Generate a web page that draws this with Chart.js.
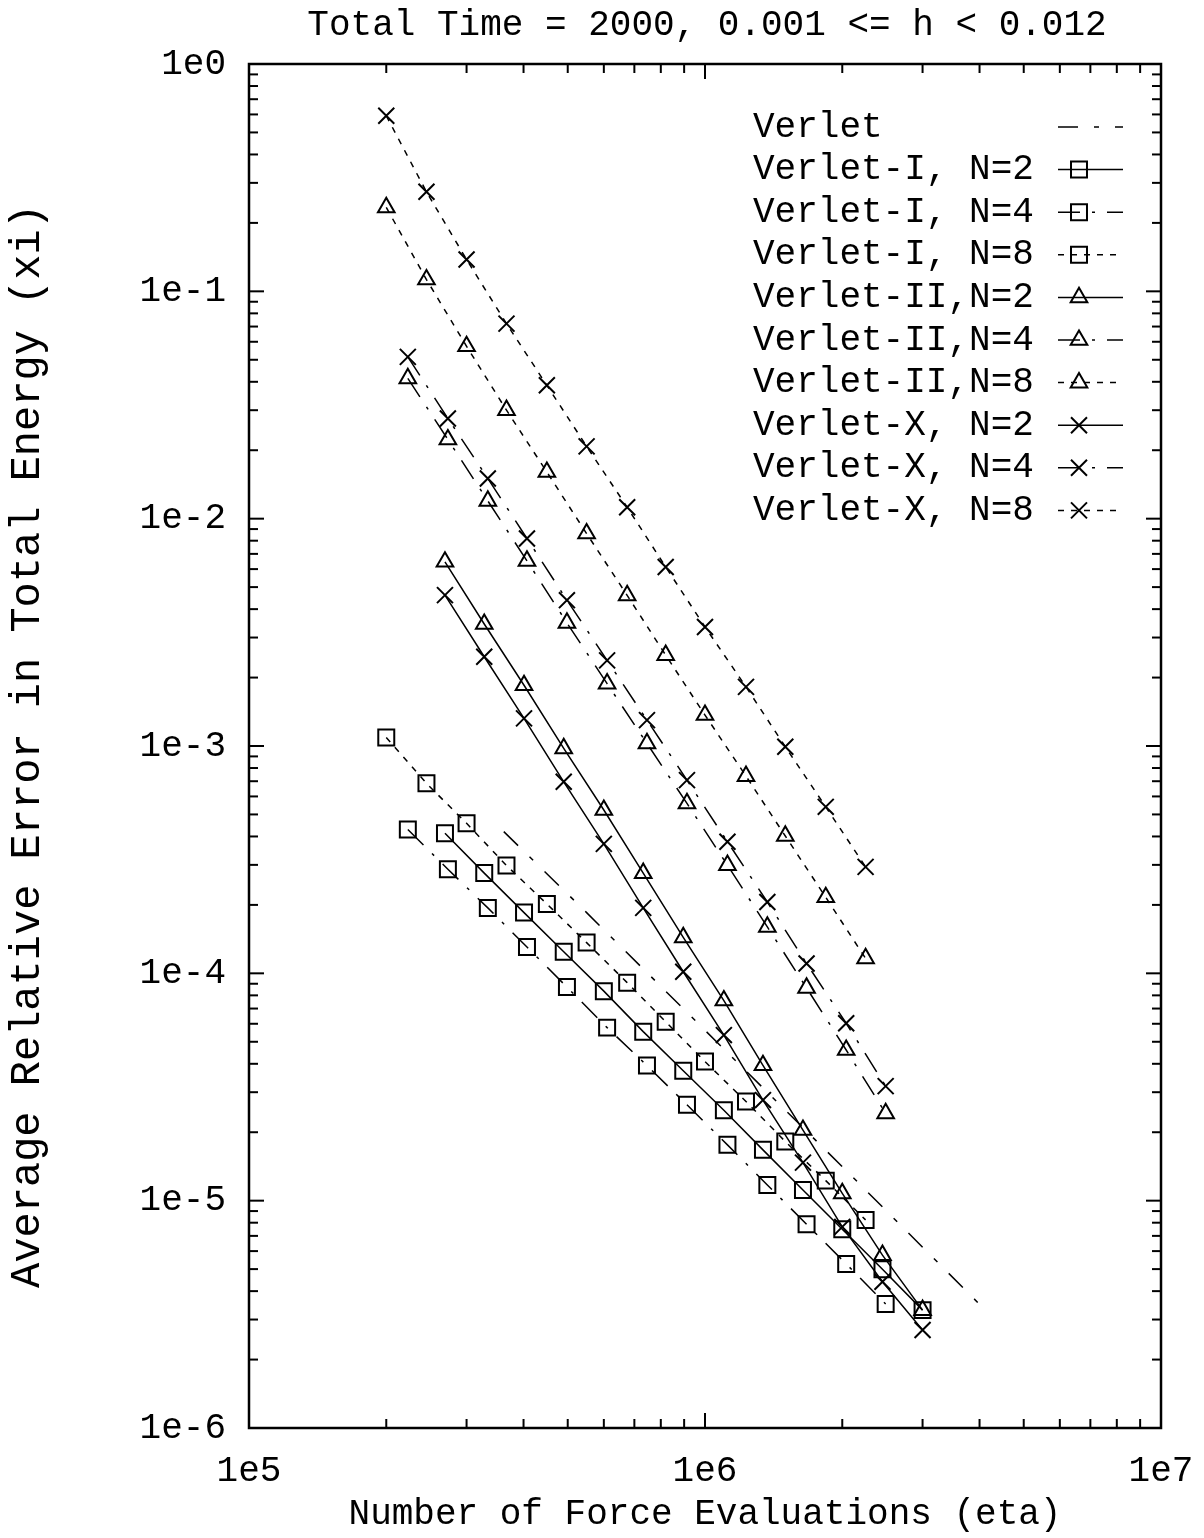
<!DOCTYPE html>
<html><head><meta charset="utf-8">
<script src="https://cdn.jsdelivr.net/npm/chart.js@4.4.1/dist/chart.umd.min.js"></script>
<style>html,body{margin:0;padding:0;background:#fff}canvas{display:block}</style>
</head><body>
<canvas id="c" width="1204" height="1538"></canvas>
<script>
// ---------- data ----------
const chartTitle = 'Total Time = 2000, 0.001 <= h < 0.012';
const xAxisTitle = 'Number of Force Evaluations (eta)';
const yAxisTitle = 'Average Relative Error in Total Energy (xi)';
const xTickValues = [1e5, 1e6, 1e7];
const xTickLabels = ['1e5', '1e6', '1e7'];
const yTickValues = [1, 1e-1, 1e-2, 1e-3, 1e-4, 1e-5, 1e-6];
const yTickLabels = ['1e0', '1e-1', '1e-2', '1e-3', '1e-4', '1e-5', '1e-6'];

const seriesNames = ['Verlet', 'Verlet-I, N=2', 'Verlet-I, N=4', 'Verlet-I, N=8',
  'Verlet-II,N=2', 'Verlet-II,N=4', 'Verlet-II,N=8',
  'Verlet-X, N=2', 'Verlet-X, N=4', 'Verlet-X, N=8'];

// force evaluations (x) for each N
const xN2 = [2.69e5, 3.28e5, 4.01e5, 4.9e5, 6.0e5, 7.32e5, 8.96e5, 1.1e6, 1.34e6, 1.64e6, 2.0e6, 2.45e6, 3.0e6];
const xN4 = [2.23e5, 2.73e5, 3.34e5, 4.07e5, 4.98e5, 6.1e5, 7.46e5, 9.13e5, 1.12e6, 1.37e6, 1.67e6, 2.04e6, 2.49e6];
const xN8 = [2.0e5, 2.45e5, 3.0e5, 3.67e5, 4.5e5, 5.5e5, 6.75e5, 8.2e5, 1.0e6, 1.23e6, 1.5e6, 1.84e6, 2.25e6];
const xVerlet = [3.62e5, 5.5e5, 2.06e6, 4.0e6];

// average relative error (y)
const yVerlet = [4.2e-4, 1.85e-4, 1.33e-5, 3.5e-6];
const yVerletI_N2 = [4.13e-4, 2.76e-4, 1.85e-4, 1.244e-4, 8.35e-5, 5.54e-5, 3.73e-5, 2.5e-5, 1.673e-5, 1.115e-5, 7.48e-6, 4.99e-6, 3.3e-6];
const yVerletI_N4 = [4.29e-4, 2.87e-4, 1.94e-4, 1.305e-4, 8.7e-5, 5.77e-5, 3.93e-5, 2.64e-5, 1.76e-5, 1.173e-5, 7.88e-6, 5.27e-6, 3.51e-6];
const yVerletI_N8 = [1.09e-3, 6.85e-4, 4.57e-4, 2.98e-4, 2.02e-4, 1.365e-4, 9.1e-5, 6.12e-5, 4.09e-5, 2.73e-5, 1.82e-5, 1.225e-5, 8.23e-6];
const yVerletII_N2 = [6.46e-3, 3.44e-3, 1.85e-3, 9.76e-4, 5.23e-4, 2.76e-4, 1.44e-4, 7.59e-5, 3.94e-5, 2.045e-5, 1.077e-5, 5.76e-6, 3.3e-6];
const yVerletII_N4 = [4.14e-2, 2.23e-2, 1.197e-2, 6.52e-3, 3.48e-3, 1.88e-3, 1.026e-3, 5.59e-4, 2.99e-4, 1.6e-4, 8.63e-5, 4.6e-5, 2.42e-5];
const yVerletII_N8 = [2.34e-1, 1.127e-1, 5.73e-2, 3.0e-2, 1.604e-2, 8.6e-3, 4.6e-3, 2.51e-3, 1.368e-3, 7.37e-4, 4.02e-4, 2.16e-4, 1.163e-4];
const yVerletX_N2 = [4.61e-3, 2.47e-3, 1.323e-3, 6.96e-4, 3.71e-4, 1.94e-4, 1.016e-4, 5.35e-5, 2.77e-5, 1.47e-5, 7.67e-6, 4.4e-6, 2.7e-6];
const yVerletX_N4 = [5.15e-2, 2.76e-2, 1.502e-2, 8.18e-3, 4.38e-3, 2.38e-3, 1.3e-3, 7.08e-4, 3.79e-4, 2.06e-4, 1.105e-4, 6.03e-5, 3.19e-5];
const yVerletX_N8 = [5.92e-1, 2.74e-1, 1.38e-1, 7.21e-2, 3.86e-2, 2.08e-2, 1.123e-2, 6.13e-3, 3.34e-3, 1.82e-3, 9.92e-4, 5.4e-4, 2.94e-4];

// ---------- styles ----------
const FONT = '"Liberation Mono", "Courier New", monospace';
const DASH_SOLID = [];
const DASH_N4 = [22, 12, 3, 12];
const DASH_VERLET = [20, 16, 5, 16];
const DASH_N8 = [6, 7];

function pts(xs, ys) { return xs.map((x, i) => ({ x: x, y: ys[i] })); }
function ds(label, xs, ys, dash, marker) {
  const r = marker === 'triangle' ? 9.6 : 11.3;
  return {
    label: label, data: pts(xs, ys), showLine: true, tension: 0,
    borderColor: '#000', borderWidth: 1.5, borderDash: dash,
    pointStyle: marker || 'circle', pointRadius: marker ? r : 0, pointHoverRadius: marker ? r : 0,
    pointBorderColor: '#000', pointBackgroundColor: 'rgba(0,0,0,0)', pointBorderWidth: 2
  };
}

const datasets = [
  ds(seriesNames[0], xVerlet, yVerlet, DASH_VERLET, null),
  ds(seriesNames[1], xN2, yVerletI_N2, DASH_SOLID, 'rect'),
  ds(seriesNames[2], xN4, yVerletI_N4, DASH_N4, 'rect'),
  ds(seriesNames[3], xN8, yVerletI_N8, DASH_N8, 'rect'),
  ds(seriesNames[4], xN2, yVerletII_N2, DASH_SOLID, 'triangle'),
  ds(seriesNames[5], xN4, yVerletII_N4, DASH_N4, 'triangle'),
  ds(seriesNames[6], xN8, yVerletII_N8, DASH_N8, 'triangle'),
  ds(seriesNames[7], xN2, yVerletX_N2, DASH_SOLID, 'crossRot'),
  ds(seriesNames[8], xN4, yVerletX_N4, DASH_N4, 'crossRot'),
  ds(seriesNames[9], xN8, yVerletX_N8, DASH_N8, 'crossRot')
];

function drawMarker(ctx, style, r, x, y) {
  ctx.beginPath();
  if (style === 'rect') {
    const s = r * Math.SQRT1_2;
    ctx.rect(x - s, y - s, 2 * s, 2 * s);
  } else if (style === 'triangle') {
    for (let k = 0; k < 3; k++) {
      const a = k * 2 * Math.PI / 3;
      const px = x + Math.sin(a) * r, py = y - Math.cos(a) * r;
      if (k === 0) ctx.moveTo(px, py); else ctx.lineTo(px, py);
    }
    ctx.closePath();
  } else if (style === 'crossRot') {
    const s = r * Math.SQRT1_2;
    ctx.moveTo(x - s, y - s); ctx.lineTo(x + s, y + s);
    ctx.moveTo(x - s, y + s); ctx.lineTo(x + s, y - s);
  }
  ctx.stroke();
}

const gnuplotFrame = {
  id: 'gnuplotFrame',
  afterDatasetsDraw(chart) {
    const ctx = chart.ctx;
    const { left, right, top, bottom } = chart.chartArea;
    const xs = chart.scales.x, ys = chart.scales.y;
    ctx.save();
    ctx.strokeStyle = '#000';
    ctx.setLineDash([]);
    ctx.lineWidth = 2;
    const seg = (a, b, c, d) => { ctx.beginPath(); ctx.moveTo(a, b); ctx.lineTo(c, d); ctx.stroke(); };
    for (let e = 5; e <= 7; e++) {
      for (let m = 1; m <= 9; m++) {
        const v = m * Math.pow(10, e);
        if (v > xs.max * 1.0001) break;
        const px = xs.getPixelForValue(v);
        const L = m === 1 ? 15 : 9;
        seg(px, bottom, px, bottom - L);
        seg(px, top, px, top + L);
      }
    }
    for (let e = -6; e <= 0; e++) {
      for (let m = 1; m <= 9; m++) {
        const v = m * Math.pow(10, e);
        if (v > ys.max * 1.0001) break;
        const py = ys.getPixelForValue(v);
        const L = m === 1 ? 15 : 9;
        seg(left, py, left + L, py);
        seg(right, py, right - L, py);
      }
    }
    ctx.lineWidth = 2.5;
    ctx.strokeRect(left, top, right - left, bottom - top);

    // title
    ctx.fillStyle = '#000';
    ctx.font = '36px ' + FONT;
    ctx.textAlign = 'center';
    ctx.textBaseline = 'middle';
    ctx.fillText(chartTitle, (left + right) / 2 + 2, 25);

    // legend (gnuplot style: text left, sample right)
    chart.data.datasets.forEach((d, i) => {
      const y = 127 + i * 42.6;
      ctx.textAlign = 'left';
      ctx.fillText(d.label, 753, y);
      ctx.lineWidth = d.borderWidth;
      ctx.setLineDash(d.borderDash || []);
      seg(1058, y, 1123, y);
      ctx.setLineDash([]);
      if (d.pointRadius > 0) {
        ctx.lineWidth = d.pointBorderWidth;
        drawMarker(ctx, d.pointStyle, d.pointRadius, 1079, y);
      }
    });
    ctx.restore();
  }
};

Chart.defaults.font.family = FONT;
Chart.defaults.color = '#000';

new Chart(document.getElementById('c'), {
  type: 'scatter',
  data: { datasets: datasets },
  options: {
    responsive: false,
    animation: false,
    events: [],
    layout: { padding: { top: 64, right: 43, left: 0, bottom: 0 } },
    plugins: { legend: { display: false }, title: { display: false }, tooltip: { enabled: false } },
    scales: {
      x: {
        type: 'logarithmic', min: 1e5, max: 1e7, position: 'bottom',
        grid: { display: false, drawTicks: false }, border: { display: false },
        afterBuildTicks: (s) => { s.ticks = xTickValues.map(v => ({ value: v, major: true })); },
        afterFit: (s) => { s.height = 110; s.paddingRight = 0; s.paddingLeft = 0; },
        ticks: {
          autoSkip: false, maxRotation: 0, padding: 22, font: { size: 36 }, color: '#000',
          callback: (v) => { const i = xTickValues.findIndex(t => Math.abs(t - v) / t < 1e-6); return i >= 0 ? xTickLabels[i] : ''; }
        },
        title: { display: true, text: xAxisTitle, font: { size: 36 }, color: '#000', padding: { top: 0, bottom: 2 } }
      },
      y: {
        type: 'logarithmic', min: 1e-6, max: 1, position: 'left',
        grid: { display: false, drawTicks: false }, border: { display: false },
        afterBuildTicks: (s) => { s.ticks = yTickValues.map(v => ({ value: v, major: true })); },
        afterFit: (s) => { s.width = 249; s.paddingTop = 0; s.paddingBottom = 0; },
        ticks: {
          autoSkip: false, padding: 23, font: { size: 36 }, color: '#000',
          callback: (v) => { const i = yTickValues.findIndex(t => Math.abs(t - v) / t < 1e-6); return i >= 0 ? yTickLabels[i] : ''; }
        },
        title: { display: true, text: yAxisTitle, font: { size: 42 }, color: '#000', padding: { top: 3, bottom: 0 } }
      }
    }
  },
  plugins: [gnuplotFrame]
});
</script>
</body></html>
